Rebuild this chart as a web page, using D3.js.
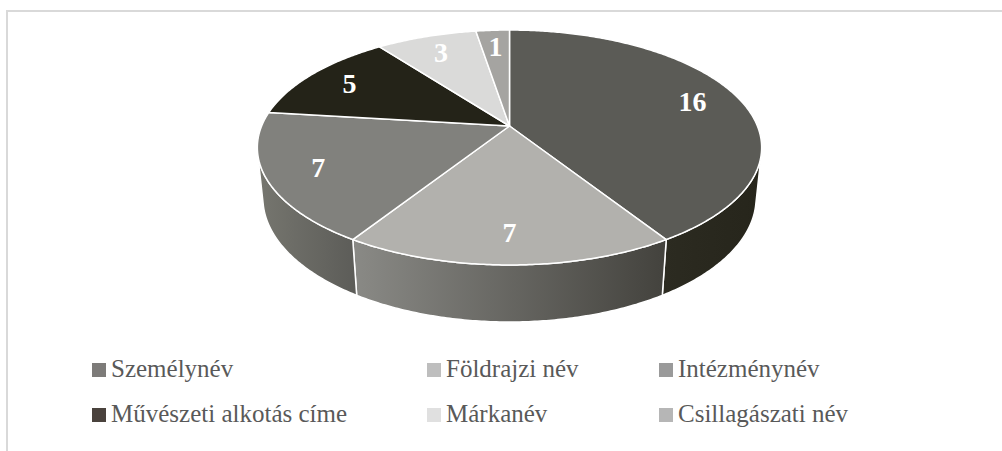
<!DOCTYPE html>
<html lang="hu">
<head>
  <meta charset="UTF-8">
  <title>Névtípusok</title>
  <script src="https://d3js.org/d3.v7.min.js"></script>
  <style>
    * { margin: 0; padding: 0; box-sizing: border-box; }
    body { background: #fff; }
    svg text { font-family: "Liberation Serif", "DejaVu Serif", "Times New Roman", serif; }
  </style>
</head>
<body>
  <div id="chart"></div>
  <script>
    // adatok
    const categories = ["Személynév", "Földrajzi név", "Intézménynév",
                        "Művészeti alkotás címe", "Márkanév", "Csillagászati név"];
    const values = [16, 7, 7, 5, 3, 1];

    // színek (felső lap, oldalfal világos/sötét vége, jelmagyarázat)
    const topColors    = ["#5b5b56", "#b2b1ad", "#81817d", "#242318", "#dadad9", "#a5a4a1"];
    const wallLight    = ["#2c2b21", "#8a8a86", "#76766f", "#242318", "#dadad9", "#a5a4a1"];
    const wallDark     = ["#26251b", "#43423d", "#5c5c58", "#242318", "#dadad9", "#a5a4a1"];
    const legendColors = ["#7d7b79", "#bebebe", "#9a9a9a", "#4a423d", "#e0e0e0", "#b6b6b6"];

    const W = 1002, H = 451;

    // 3D nézet paraméterei (perspektíva)
    const elev = 27.26 * Math.PI / 180,
          s = Math.sin(elev), c = Math.cos(elev),
          D = 4.857, f = 1204, depth = 0.2308,
          cx = 509.5, cy = 126;

    function project(r, a, z) {
      const X = r * Math.sin(a), Y = r * Math.cos(a);
      const den = D + Y * c - z * s;
      return [cx + f * X / den, cy - f * (Y * s + z * c) / den];
    }

    function arcPoints(a0, a1, z) {
      const n = Math.max(2, Math.ceil((a1 - a0) / 0.01) + 1);
      return d3.range(n).map(i => project(1, a0 + (a1 - a0) * i / (n - 1), z));
    }

    const svg = d3.select("#chart").append("svg")
                  .attr("width", W)
                  .attr("height", H);

    // keret
    svg.append("rect")
       .attr("x", 7).attr("y", 11)
       .attr("width", W + 20).attr("height", H + 20)
       .attr("fill", "none")
       .attr("stroke", "#d9d9d9")
       .attr("stroke-width", 2);

    const arcs = d3.pie().sort(null).value(d => d)(values);

    const defs = svg.append("defs");
    arcs.forEach((d, i) => {
      const g = defs.append("linearGradient")
                    .attr("id", "wall" + i)
                    .attr("x1", 0).attr("x2", 1).attr("y1", 0).attr("y2", 0);
      g.append("stop").attr("offset", "0%").attr("stop-color", wallLight[i]);
      g.append("stop").attr("offset", "100%").attr("stop-color", wallDark[i]);
    });

    const line = d3.line();

    // látható oldalfal tartománya (érintő pontok)
    const ySil = -1 / (D * c);
    const aRight = Math.acos(ySil), aLeft = 2 * Math.PI - aRight;

    const pie = svg.append("g");

    pie.selectAll(".wall")
       .data(arcs.filter(d => Math.min(d.endAngle, aLeft) > Math.max(d.startAngle, aRight)))
       .enter()
       .append("path")
       .attr("class", "wall")
       .attr("d", d => {
         const a0 = Math.max(d.startAngle, aRight), a1 = Math.min(d.endAngle, aLeft);
         const pts = arcPoints(a0, a1, 0).concat(arcPoints(a0, a1, -depth).reverse());
         return line(pts) + "Z";
       })
       .attr("fill", d => `url(#wall${d.index})`)
       .attr("stroke", "#fff")
       .attr("stroke-width", 1.5)
       .attr("stroke-linejoin", "round");

    pie.selectAll(".slice")
       .data(arcs)
       .enter()
       .append("path")
       .attr("class", "slice")
       .attr("d", d => line([[cx, cy]].concat(arcPoints(d.startAngle, d.endAngle, 0))) + "Z")
       .attr("fill", d => topColors[d.index])
       .attr("stroke", "#fff")
       .attr("stroke-width", 1.5)
       .attr("stroke-linejoin", "round");

    // címkék a szelet középszögén, a sugár 80%-ánál
    pie.selectAll(".label")
       .data(arcs)
       .enter()
       .append("text")
       .attr("class", "label")
       .attr("text-anchor", "middle")
       .attr("fill", "#fff")
       .style("font-size", "28px")
       .style("font-weight", "bold")
       .text(d => d.data)
       .each(function(d) {
         const p = project(0.8, (d.startAngle + d.endAngle) / 2, 0);
         const bb = this.getBBox();
         d3.select(this)
           .attr("x", p[0])
           .attr("y", p[1] - (bb.y + bb.height / 2));
       });

    // jelmagyarázat
    const legendCols = [92, 427, 659], legendRows = [363, 408];
    const legend = svg.selectAll(".legend")
                      .data(categories)
                      .enter()
                      .append("g")
                      .attr("class", "legend")
                      .attr("transform", (d, i) =>
                        `translate(${legendCols[i % 3]},${legendRows[Math.floor(i / 3)]})`);

    legend.append("rect")
          .attr("width", 14)
          .attr("height", 14)
          .attr("fill", (d, i) => legendColors[i]);

    legend.append("text")
          .attr("x", 19)
          .attr("y", 14)
          .attr("fill", "#595959")
          .style("font-size", "25px")
          .text(d => d);
  </script>
</body>
</html>
